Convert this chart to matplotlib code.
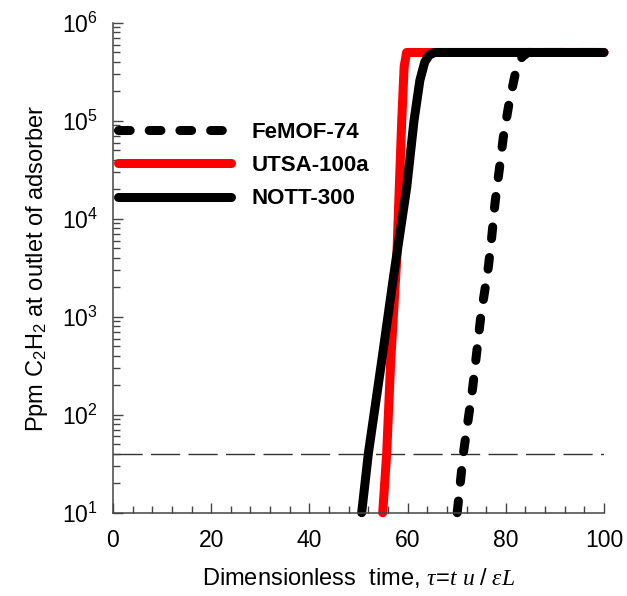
import numpy as np
import matplotlib
matplotlib.use("Agg")
import matplotlib.pyplot as plt
from matplotlib.ticker import MultipleLocator, LogLocator, NullFormatter

plt.rcParams['font.family'] = ['Liberation Sans', 'DejaVu Sans']
plt.rcParams['mathtext.fontset'] = 'custom'
plt.rcParams['mathtext.rm'] = 'Liberation Sans'
plt.rcParams['mathtext.it'] = 'Liberation Serif:italic'
plt.rcParams['mathtext.bf'] = 'Liberation Sans:bold'

# ---- data ----
femof_x = [70.1, 71.35, 73.26, 74.9, 76.44, 77.13, 77.8, 78.68, 79.49, 80.65, 82.08, 83.3, 84.5, 100]
femof_y = [10, 40, 190, 1000, 3200, 6500, 1.45e4, 3.2e4, 6.8e4, 1.5e5, 3.3e5, 4.5e5, 5e5, 5e5]

utsa_x = [54.93, 55.74, 56.56, 57.78, 58.31, 58.80, 59.3, 59.8, 100]
utsa_y = [10, 40, 355, 3800, 2.1e4, 1.0e5, 3.6e5, 5e5, 5e5]

nott_x = [50.65, 52.0, 54.73, 57.1, 59.82, 61.3, 62.5, 63.5, 64.4, 65.5, 100]
nott_y = [10, 40, 355, 2500, 2.1e4, 1.0e5, 2.6e5, 4.0e5, 4.7e5, 5e5, 5e5]

threshold_ppm = 40

labels = ["FeMOF-74", "UTSA-100a", "NOTT-300"]

W, H = 627, 596
fig = plt.figure(figsize=(W / 100, H / 100), dpi=100)
ax = fig.add_axes([113 / W, 1 - 512.7 / H, (604 - 113) / W, (512.7 - 23) / H])

lw = 6.5
l1, = ax.plot(femof_x, femof_y, color='black', lw=lw, dash_capstyle='round',
              solid_capstyle='round', dashes=(1.3, 2.1), clip_on=False, label=labels[0])
l2, = ax.plot(utsa_x, utsa_y, color='#ff0000', lw=lw, solid_capstyle='round',
              solid_joinstyle='round', clip_on=False, label=labels[1])
l3, = ax.plot(nott_x, nott_y, color='black', lw=lw, solid_capstyle='round',
              solid_joinstyle='round', clip_on=False, label=labels[2])

ax.axhline(threshold_ppm, color='#333333', lw=1.0, dashes=(21, 6), zorder=1)

ax.set_yscale('log')
ax.set_xlim(0, 100)
ax.set_ylim(10, 1e6)

for s in ['top', 'right']:
    ax.spines[s].set_visible(False)
for s in ['left', 'bottom']:
    ax.spines[s].set_color('#444444')
    ax.spines[s].set_linewidth(1.1)

ax.xaxis.set_major_locator(MultipleLocator(20))
ax.xaxis.set_minor_locator(MultipleLocator(4))
ax.yaxis.set_major_locator(LogLocator(base=10, numticks=10))
ax.yaxis.set_minor_locator(LogLocator(base=10, subs=np.arange(2, 10), numticks=20))
ax.yaxis.set_minor_formatter(NullFormatter())

ax.tick_params(which='both', direction='in', color='#444444', width=1.0)
ax.tick_params(which='major', length=7, labelsize=16.5)
ax.tick_params(which='minor', length=5)
ax.tick_params(axis='x', which='major', pad=12)
ax.tick_params(axis='y', which='major', pad=11)

ax.set_xlabel(r"Dimensionless  time, $\tau\!=\!t\ u\ /\ \varepsilon L$", fontsize=17, labelpad=10)
ax.set_ylabel(r"Ppm C$_2$H$_2$ at outlet of adsorber", fontsize=17, labelpad=8)

leg = ax.legend(handles=[l1, l2, l3], loc='upper left',
                bbox_to_anchor=(118 / W, 1 - 122 / H), bbox_transform=fig.transFigure,
                frameon=False, borderpad=0, borderaxespad=0, handlelength=5.1,
                handletextpad=0.9, labelspacing=0.55,
                prop={'family': 'Liberation Sans', 'weight': 'bold', 'size': 16})

fig.savefig("out.png", dpi=100)
